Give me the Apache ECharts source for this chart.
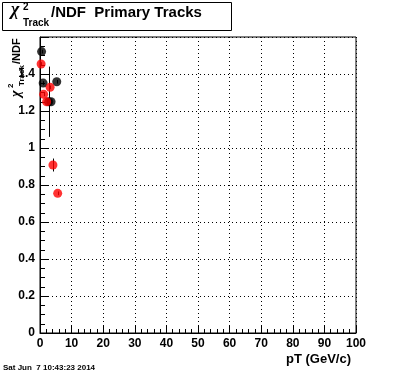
<!DOCTYPE html>
<html>
<head>
<meta charset="utf-8">
<script src="https://cdn.jsdelivr.net/npm/echarts@6/dist/echarts.min.js"></script>
<style>
html,body{margin:0;padding:0;background:#fff;}
#chart{width:396px;height:372px;}
</style>
</head>
<body>
<div id="chart"></div>
<script>
// ---- data ----
const blackX   = [0.5, 1.0, 2.75, 3.5, 5.3];
const blackY   = [1.521, 1.351, 1.25, 1.25, 1.358];
const blackErr = [0.01, 0.01, 0.19, 0.01, 0.01];

const redX   = [0.35, 1.15, 2.1, 3.2, 4.1, 5.6];
const redY   = [1.454, 1.29, 1.25, 1.328, 0.908, 0.755];
const redErr = [0.01, 0.01, 0.01, 0.01, 0.035, 0.01];

const xTicks = [0, 10, 20, 30, 40, 50, 60, 70, 80, 90, 100];
const yTicks = [0, 0.2, 0.4, 0.6, 0.8, 1, 1.2, 1.4];

const titleMain = '/NDF  Primary Tracks';
const xTitle = 'pT (GeV/c)';
const dateText = 'Sat Jun  7 10:43:23 2014';

// ---- build ----
const FONT = 'Liberation Sans, Arial, Helvetica, sans-serif';
const SERIF = 'Liberation Serif, DejaVu Serif, serif';
const pts = (xs, ys) => xs.map((x, i) => [x, ys[i]]);
const errs = (xs, ys, es) => xs.map((x, i) => [x, ys[i] - es[i], ys[i] + es[i]]);

function errRender(params, api) {
  const p1 = api.coord([api.value(0), api.value(1)]);
  const p2 = api.coord([api.value(0), api.value(2)]);
  return {
    type: 'line',
    shape: {x1: Math.round(p1[0]) + 0.5, y1: p1[1], x2: Math.round(p2[0]) + 0.5, y2: p2[1]},
    style: {stroke: '#000', lineWidth: 1}
  };
}

const chart = echarts.init(document.getElementById('chart'), null, {renderer: 'canvas'});

const axisCommon = {
  axisLine: {show: true, onZero: false, lineStyle: {color: '#000', width: 1}},
  splitLine: {show: true, lineStyle: {color: '#000', type: [1, 3], width: 1}},
  axisLabel: {color: '#000', fontFamily: FONT, fontWeight: 'bold', fontSize: 12}
};

chart.setOption({
  backgroundColor: '#fff',
  animation: false,
  grid: {left: 40, right: 40, top: 37, bottom: 39, show: true, borderColor: '#000', borderWidth: 1, backgroundColor: 'transparent'},
  xAxis: Object.assign({}, axisCommon, {
    type: 'value', min: xTicks[0], max: xTicks[xTicks.length - 1], interval: 10,
    axisTick: {show: true, inside: true, length: 8, lineStyle: {color: '#000'}},
    minorTick: {show: true, splitNumber: 5, length: 4, lineStyle: {color: '#000'}},
    axisLabel: Object.assign({}, axisCommon.axisLabel, {margin: 5})
  }),
  yAxis: Object.assign({}, axisCommon, {
    type: 'value', min: 0, max: 1.6, interval: 0.2,
    axisTick: {show: true, inside: true, length: 9, lineStyle: {color: '#000'}},
    minorTick: {show: true, splitNumber: 4, length: 5, lineStyle: {color: '#000'}},
    axisLabel: Object.assign({}, axisCommon.axisLabel, {
      margin: 5, showMaxLabel: false,
      formatter: v => (yTicks.some(t => Math.abs(t - v) < 1e-6) ? String(+v.toFixed(1)) : '')
    })
  }),
  series: [
    {type: 'custom', renderItem: errRender, data: errs(blackX, blackY, blackErr), z: 3},
    {type: 'scatter', data: pts(blackX, blackY), symbol: 'circle', symbolSize: 9, itemStyle: {color: '#000'}, z: 4},
    {type: 'custom', renderItem: errRender, data: errs(redX, redY, redErr), z: 5},
    {type: 'scatter', data: pts(redX, redY), symbol: 'circle', symbolSize: 9, itemStyle: {color: '#ff0000'}, z: 6}
  ],
  graphic: [
    // title box
    {type: 'rect', shape: {x: 2.5, y: 2.5, width: 229, height: 28}, style: {fill: '#fff', stroke: '#000', lineWidth: 1}, z: 10},
    {type: 'text', x: 11, y: 19, style: {text: 'χ', font: 'bold italic 18px ' + SERIF, fill: '#000', verticalAlign: 'bottom'}, z: 11},
    {type: 'text', x: 23, y: 7, style: {text: '2', font: 'bold 10px ' + FONT, fill: '#000', verticalAlign: 'middle'}, z: 11},
    {type: 'text', x: 23, y: 23, style: {text: 'Track', font: 'bold 10px ' + FONT, fill: '#000', verticalAlign: 'middle'}, z: 11},
    {type: 'text', x: 51, y: 13, style: {text: titleMain, font: 'bold 15px ' + FONT, fill: '#000', verticalAlign: 'middle'}, z: 11},
    // y title rotated (local x runs up the screen)
    {type: 'group', x: 17, y: 97, rotation: Math.PI / 2, z: 11, children: [
      {type: 'text', x: 0, y: -1, style: {text: 'χ', font: 'bold italic 14px ' + SERIF, fill: '#000', verticalAlign: 'middle'}},
      {type: 'text', x: 9, y: -6, style: {text: '2', font: 'bold 8px ' + FONT, fill: '#000', verticalAlign: 'middle'}},
      {type: 'text', x: 11, y: 5, style: {text: 'Track', font: 'bold 8px ' + FONT, fill: '#000', verticalAlign: 'middle'}},
      {type: 'text', x: 33, y: 0, style: {text: '/NDF', font: 'bold 11px ' + FONT, fill: '#000', verticalAlign: 'middle'}}
    ]},
    // x title
    {type: 'text', right: 45, top: 353, style: {text: xTitle, font: 'bold 13px ' + FONT, fill: '#000'}, z: 11},
    // date
    {type: 'text', left: 3, top: 364, style: {text: dateText, font: 'bold 8px ' + FONT, fill: '#000'}, z: 11}
  ]
});
</script>
</body>
</html>
